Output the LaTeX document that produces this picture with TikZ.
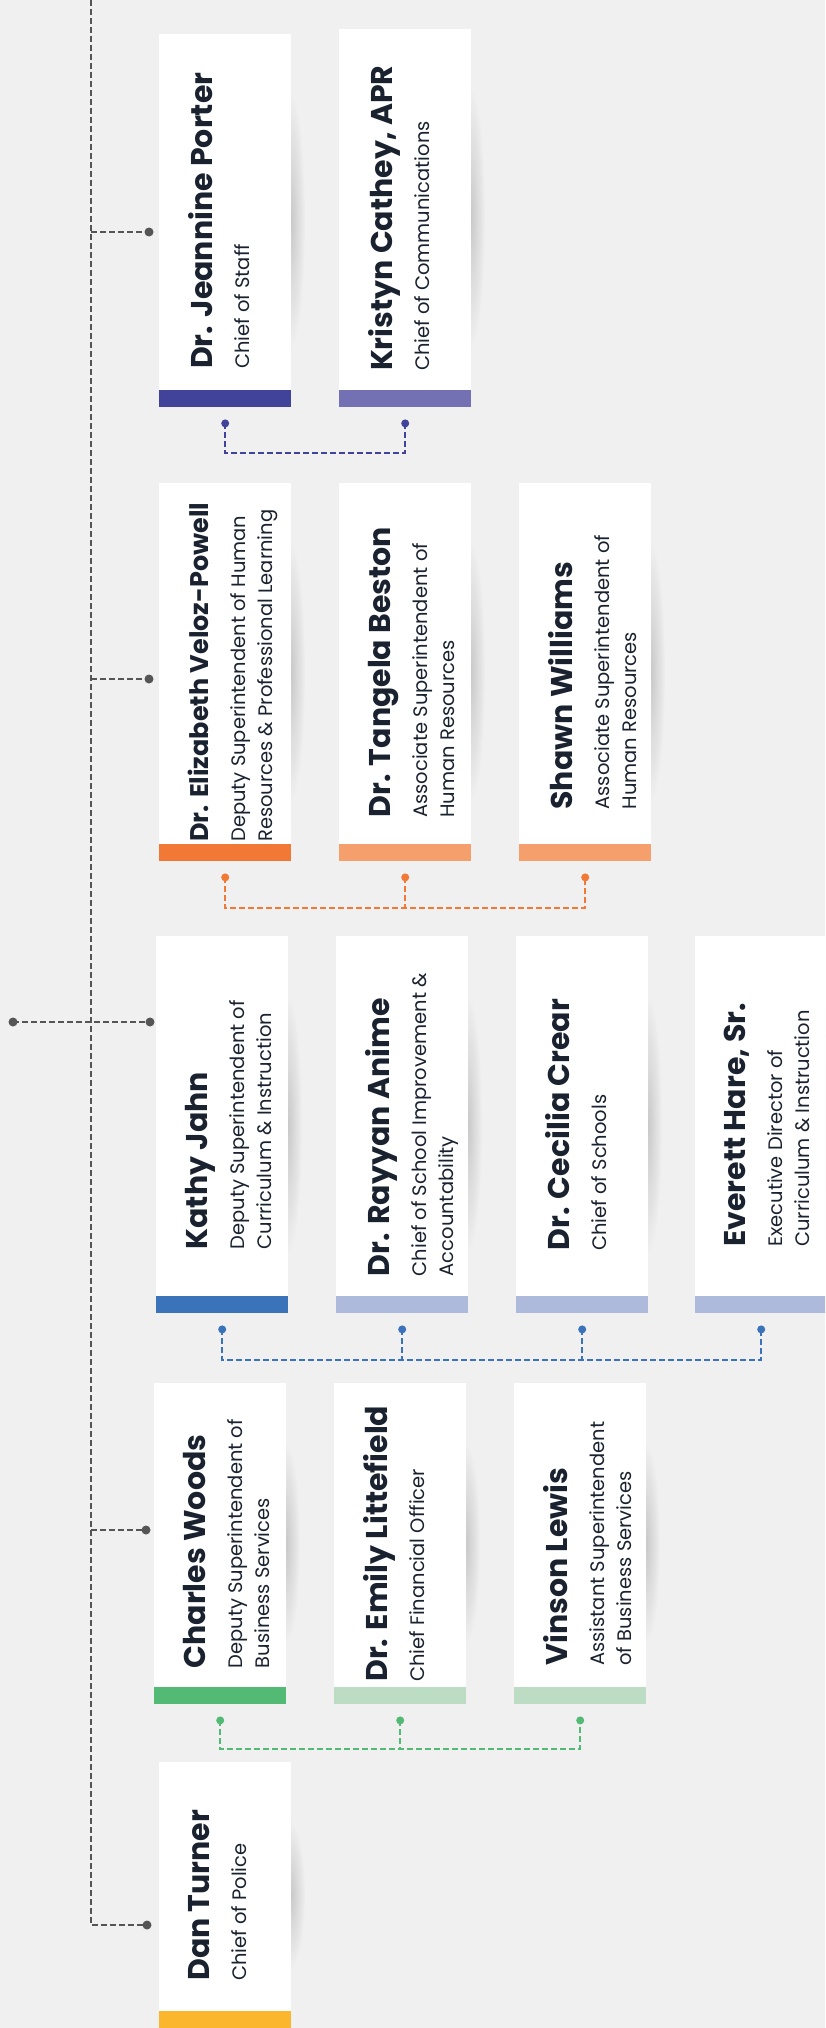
\documentclass[tikz,border=0pt]{standalone}
\usepackage{fontspec}
\setmainfont{Poppins}
\usetikzlibrary{calc,fadings}

\definecolor{paper}{HTML}{EFF0EF}
\definecolor{ink}{HTML}{1A2230}
\definecolor{trunkgrey}{HTML}{555555}
\definecolor{staffbar}{HTML}{41429A}
\definecolor{staffsoft}{HTML}{7370B3}
\definecolor{hrbar}{HTML}{F27836}
\definecolor{hrsoft}{HTML}{F5A06C}
\definecolor{curbar}{HTML}{3A73BA}
\definecolor{cursoft}{HTML}{ADBADB}
\definecolor{bizbar}{HTML}{52BA74}
\definecolor{bizsoft}{HTML}{BDDCC4}
\definecolor{policebar}{HTML}{FBB62D}

\tikzfading[name=soft edge, inner color=transparent!0, outer color=transparent!100]

\tikzset{
  card/.style={fill=white, inner sep=0pt, minimum width=132pt, anchor=north west},
  cardshadow/.style={fill=black, opacity=0.16, path fading=soft edge},
  who/.style={rotate=90, anchor=north, inner sep=0pt, align=left, text=ink,
    font=\fontsize{19.5}{27}\selectfont},
  trunk/.style={draw=trunkgrey, line width=2pt, dash pattern=on 6pt off 3pt},
  link/.style={line width=2pt, dash pattern=on 6pt off 3pt},
}

\newcommand{\personname}[2][30]{{\fontsize{#1}{#1}\selectfont\bfseries #2}}
% card: node, x, y, height, bar colour, name, role
\newcommand{\orgcard}[7]{%
  \fill[cardshadow] ({#2+118},{#3+60}) rectangle ({#2+146},{#3+#4-60});
  \node[card, minimum height=#4pt] (#1) at (#2,#3) {};
  \fill[#5] (#1.south west) rectangle ([yshift=17pt]#1.south east);
  \node[who] (#1-text) at ([xshift=29pt]#1.west) {#6\\[10pt]#7};
  \coordinate (#1-dot) at ([yshift=-16pt]#1.south);
}

\begin{document}
\begin{tikzpicture}[x=1pt,y=-1pt]
  \useasboundingbox (0,0) rectangle (825,2028);
  \fill[paper] (0,0) rectangle (825,2028);
  \clip (0,0) rectangle (825,2028);

  %%%%% CARDS %%%%%
  \orgcard{porter}{159}{34}{373}{staffbar}{\personname{Dr. Jeannine Porter}}{Chief of Staff}
  \orgcard{cathey}{339}{29}{378}{staffsoft}{\personname{Kristyn Cathey, APR}}{Chief of Communications}

  \orgcard{veloz}{159}{483}{378}{hrbar}{\personname[25.5]{Dr. Elizabeth Veloz-Powell}}{Deputy Superintendent of Human\\Resources \& Professional Learning}
  \orgcard{beston}{339}{483}{378}{hrsoft}{\personname{Dr. Tangela Beston}}{Associate Superintendent of\\Human Resources}
  \orgcard{williams}{519}{483}{378}{hrsoft}{\personname{Shawn Williams}}{Associate Superintendent of\\Human Resources}

  \orgcard{jahn}{156}{936}{377}{curbar}{\personname{Kathy Jahn}}{Deputy Superintendent of\\Curriculum \& Instruction}
  \orgcard{anime}{336}{936}{377}{cursoft}{\personname{Dr. Rayyan Anime}}{Chief of School Improvement \&\\Accountability}
  \orgcard{crear}{516}{936}{377}{cursoft}{\personname{Dr. Cecilia Crear}}{Chief of Schools}
  \orgcard{hare}{695}{936}{377}{cursoft}{\personname{Everett Hare, Sr.}}{Executive Director of\\Curriculum \& Instruction}

  \orgcard{woods}{154}{1383}{321}{bizbar}{\personname{Charles Woods}}{Deputy Superintendent of\\Business Services}
  \orgcard{littefield}{334}{1383}{321}{bizsoft}{\personname{Dr. Emily Littefield}}{Chief Financial Officer}
  \orgcard{lewis}{514}{1383}{321}{bizsoft}{\personname{Vinson Lewis}}{Assistant Superintendent\\of Business Services}

  \orgcard{turner}{159}{1762}{266}{policebar}{\personname{Dan Turner}}{Chief of Police}

  %%%%% GROUP LINKS %%%%%
  \draw[link, draw=staffbar] (porter-dot) -- ++(0,30) -| (cathey-dot);
  \foreach \n in {porter,cathey} \fill[staffbar] (\n-dot) circle (4pt);

  \draw[link, draw=hrbar] (veloz-dot) -- ++(0,31) -| (williams-dot);
  \draw[link, draw=hrbar] (beston-dot) -- ++(0,31);
  \foreach \n in {veloz,beston,williams} \fill[hrbar] (\n-dot) circle (4pt);

  \draw[link, draw=curbar] (jahn-dot) -- ++(0,31) -| (hare-dot);
  \draw[link, draw=curbar] (anime-dot) -- ++(0,31);
  \draw[link, draw=curbar] (crear-dot) -- ++(0,31);
  \foreach \n in {jahn,anime,crear,hare} \fill[curbar] (\n-dot) circle (4pt);

  \draw[link, draw=bizbar] (woods-dot) -- ++(0,29) -| (lewis-dot);
  \draw[link, draw=bizbar] (littefield-dot) -- ++(0,29);
  \foreach \n in {woods,littefield,lewis} \fill[bizbar] (\n-dot) circle (4pt);

  %%%%% TRUNK %%%%%
  \coordinate (spine-top) at (91,0);
  \coordinate (super-link) at (13,1022);
  \coordinate (porter-link) at (149,232);
  \coordinate (veloz-link) at (149,679);
  \coordinate (jahn-link) at (150,1022);
  \coordinate (woods-link) at (146,1530);
  \coordinate (turner-link) at (147,1925);

  \draw[trunk] (spine-top) |- (turner-link);
  \foreach \n in {porter,veloz,woods} \draw[trunk] (spine-top |- \n-link) -- (\n-link);
  \draw[trunk] (super-link) -- (jahn-link);
  \foreach \n in {super,porter,veloz,jahn,woods,turner} \fill[trunkgrey] (\n-link) circle (4.5pt);
\end{tikzpicture}
\end{document}
